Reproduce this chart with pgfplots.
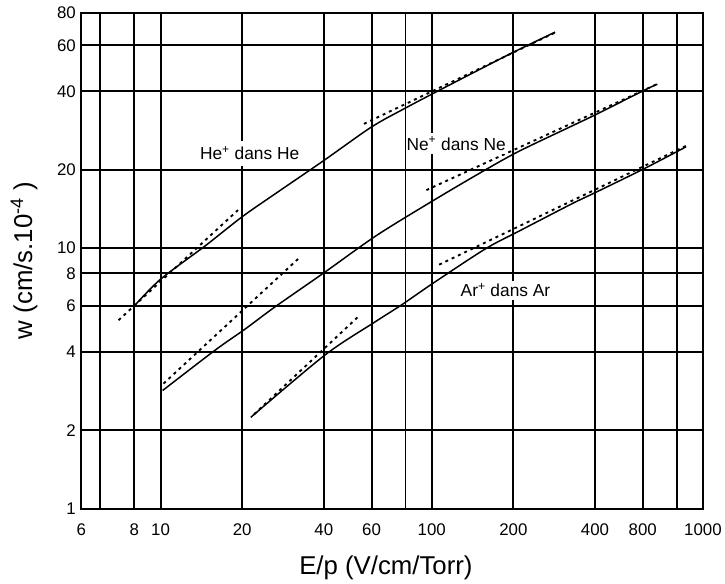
\documentclass[border=0pt]{standalone}
\usepackage{fontspec}
\setmainfont{Liberation Sans}
\usepackage{pgfplots}
\pgfplotsset{compat=1.18}
\begin{document}
\begin{tikzpicture}
\begin{loglogaxis}[
 width=627pt, height=500pt, scale only axis,
 xmin=5.1, xmax=1000, ymin=1, ymax=80,
 xtick={5.1,6,8,10,20,40,60,80,100,200,400,600,800,1000},
 xticklabels={6,{},8,10,20,40,60,{},100,200,400,800,{},1000},
 ytick={1,2,4,6,8,10,20,40,60,80},
 yticklabels={1,2,4,6,8,10,20,40,60,80},
 minor xtick={}, minor ytick={},
 grid=major,
 major grid style={black, line width=2pt},
 axis line style={black, line width=2pt},
 major tick length=0pt,
 tick label style={font=\fontsize{17}{17}\selectfont},
 xticklabel style={yshift=-12pt},
 yticklabel style={xshift=-2pt},
 xlabel={E/p (V/cm/Torr)},
 ylabel={w (cm/s.10\textsuperscript{-4} )},
 label style={font=\fontsize{26}{26}\selectfont},
 xlabel style={at={(axis description cs:0.49,-0.12)}, anchor=center},
 ylabel style={at={(axis description cs:-0.092,0.5)}, anchor=center},
 solid/.style={black, line width=1.5pt, smooth},
 dots/.style={black, line width=1.9pt, dash pattern=on 3pt off 4pt},
]
% He+ in He
\addplot[solid] coordinates {(8.0,6.0) (10,7.6) (14.6,10.2) (20,13.2) (27,16.4) (40,21.7) (60,29.2) (80,34.5) (100,39.0) (150,48.5) (200,56.5) (285,67.5)};
\addplot[dots] coordinates {(7.0,5.29) (19.3,14.0)};
\addplot[dots] coordinates {(56.2,30.0) (290,67.8)};
% Ne+ in Ne
\addplot[solid] coordinates {(10.17,2.84) (15.9,4.06) (20.5,4.89) (26.3,5.93) (40.1,8.05) (62.7,11.2) (102,15.3) (154,19.7) (209,23.5) (337,29.8) (406,32.7) (608,40.4) (679,42.6)};
\addplot[dots] coordinates {(10.25,3.02) (32.8,9.27)};
\addplot[dots] coordinates {(95.5,16.7) (690,43.0)};
% Ar+ in Ar
\addplot[solid] coordinates {(21.5,2.24) (40.4,3.89) (61.6,5.20) (77.3,6.05) (102,7.38) (158,9.95) (209,11.6) (337,15.0) (399,16.3) (608,20.2) (867,24.5)};
\addplot[dots] coordinates {(22.1,2.30) (54.3,5.53)};
\addplot[dots] coordinates {(106.5,8.64) (881,24.9)};
\node[fill=white, inner xsep=1pt, inner ysep=6pt, font=\fontsize{17.5}{17.5}\selectfont] at (axis cs:21.3,23.1) {He\textsuperscript{+} dans He};
\node[fill=white, inner xsep=1pt, inner ysep=4pt, font=\fontsize{17.5}{17.5}\selectfont] at (axis cs:123,25.2) {Ne\textsuperscript{+} dans Ne};
\node[fill=white, inner xsep=1pt, inner ysep=3pt, font=\fontsize{17.5}{17.5}\selectfont] at (axis cs:187,6.88) {Ar\textsuperscript{+} dans Ar};
\end{loglogaxis}
\path (current axis.south west) ++(-82pt,-68pt) rectangle ([shift={(16pt,13pt)}]current axis.north east);
\end{tikzpicture}
\end{document}
